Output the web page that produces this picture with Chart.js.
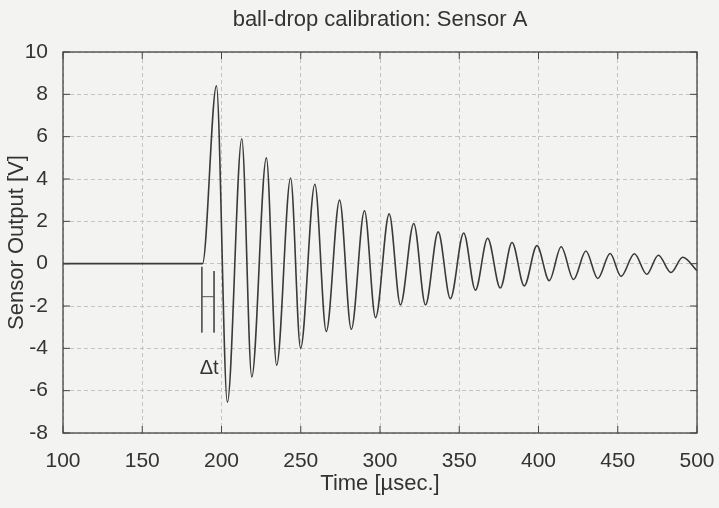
<!DOCTYPE html>
<html>
<head>
<meta charset="utf-8">
<title>ball-drop calibration: Sensor A</title>
<script src="https://cdn.jsdelivr.net/npm/chart.js@4/dist/chart.umd.min.js"></script>
<style>
  html, body { margin: 0; padding: 0; background: #f3f3f1; }
  #wrap { width: 719px; height: 508px; }
</style>
</head>
<body>
<div id="wrap"><canvas id="sensorChart"></canvas></div>
<script>
// sensor trace: onset, then each peak / trough in turn
const timeUs = [100, 188, 196.8, 203.7, 212.8, 219.1, 228.3, 234.8, 243.6, 249.9,
  258.9, 266.1, 274.5, 281.9, 290.2, 297.2, 305.8, 312.9, 321.3, 328.7,
  336.7, 344.4, 352.8, 360.2, 367.9, 375.9, 383.3, 391.0, 399.0, 406.8,
  414.3, 422.1, 429.9, 437.4, 445.2, 452.1, 460.5, 468.3, 475.6, 483.6,
  491.0, 500];
const outputV = [0, 0, 8.40, -6.55, 5.90, -5.35, 5.00, -4.80, 4.05, -4.00,
  3.75, -3.20, 3.00, -3.10, 2.50, -2.55, 2.35, -1.95, 1.90, -1.95,
  1.50, -1.65, 1.45, -1.25, 1.20, -1.15, 1.00, -1.05, 0.85, -0.80,
  0.80, -0.75, 0.60, -0.70, 0.48, -0.60, 0.47, -0.50, 0.40, -0.42,
  0.30, -0.33];

// delta-t marker (two bars and the link between them)
const dtLeftX = [187.6, 187.6];
const dtLeftY = [-0.15, -3.25];
const dtRightX = [195.3, 195.3];
const dtRightY = [-0.35, -3.25];
const dtBarX = [187.6, 195.3];
const dtBarY = [-1.56, -1.56];
const dtLabel = { text: 'Δt', x: 192.2, y: -4.95 };

const xTicks = [100, 150, 200, 250, 300, 350, 400, 450, 500];
const yTicks = [-8, -6, -4, -2, 0, 2, 4, 6, 8, 10];

const ink = '#333333';
const fontFamily = '"Liberation Sans", Arial, Helvetica, sans-serif';

function pts(xs, ys) {
  return xs.map((x, i) => ({ x: x, y: ys[i] }));
}

function markerSet(xs, ys) {
  return {
    data: pts(xs, ys),
    borderColor: '#555',
    borderWidth: 1,
    pointRadius: 0,
    tension: 0
  };
}

// gnuplot-style frame with inward ticks, plus the delta-t text
const framePlugin = {
  id: 'frame',
  afterDatasetsDraw(chart) {
    const { ctx, chartArea: a, scales } = chart;
    ctx.save();
    ctx.strokeStyle = '#444';
    ctx.lineWidth = 1.3;
    ctx.strokeRect(a.left, a.top, a.right - a.left, a.bottom - a.top);
    ctx.lineWidth = 1;
    ctx.beginPath();
    xTicks.forEach(v => {
      const px = scales.x.getPixelForValue(v);
      ctx.moveTo(px, a.bottom); ctx.lineTo(px, a.bottom - 7);
      ctx.moveTo(px, a.top); ctx.lineTo(px, a.top + 7);
    });
    yTicks.forEach(v => {
      const py = scales.y.getPixelForValue(v);
      ctx.moveTo(a.left, py); ctx.lineTo(a.left + 7, py);
      ctx.moveTo(a.right, py); ctx.lineTo(a.right - 7, py);
    });
    ctx.stroke();

    ctx.fillStyle = ink;
    ctx.font = '20px ' + fontFamily;
    ctx.textAlign = 'center';
    ctx.textBaseline = 'middle';
    ctx.fillText(dtLabel.text, scales.x.getPixelForValue(dtLabel.x), scales.y.getPixelForValue(dtLabel.y));
    ctx.restore();
  }
};

const ctx = document.getElementById('sensorChart').getContext('2d');

new Chart(ctx, {
  type: 'line',
  data: {
    datasets: [
      {
        label: 'Sensor A',
        data: pts(timeUs, outputV),
        borderColor: '#3a3a3a',
        borderWidth: 1.6,
        pointRadius: 0,
        cubicInterpolationMode: 'monotone'
      },
      markerSet(dtLeftX, dtLeftY),
      markerSet(dtRightX, dtRightY),
      markerSet(dtBarX, dtBarY)
    ]
  },
  options: {
    responsive: true,
    maintainAspectRatio: false,
    animation: false,
    layout: { padding: { left: 0, right: 22, top: 0, bottom: 0 } },
    plugins: {
      legend: { display: false },
      tooltip: { enabled: false },
      title: {
        display: true,
        fullSize: false,
        text: 'ball-drop calibration: Sensor A',
        color: ink,
        font: { family: fontFamily, size: 22, weight: 'normal' },
        padding: { top: 7, bottom: 18.6 }
      }
    },
    scales: {
      x: {
        type: 'linear',
        min: 100,
        max: 500,
        afterFit(scale) {
          scale.height = 75;
          // labels fit inside the margins already
          scale.paddingLeft = 0;
          scale.paddingRight = 0;
        },
        afterBuildTicks(scale) { scale.ticks = xTicks.map(v => ({ value: v })); },
        ticks: {
          color: ink,
          padding: 16,
          maxRotation: 0,
          font: { family: fontFamily, size: 21 }
        },
        grid: {
          color: '#c4c4c4',
          lineWidth: 1,
          drawTicks: false
        },
        border: { display: false, dash: [4, 3] },
        title: {
          display: true,
          text: 'Time [µsec.]',
          color: ink,
          font: { family: fontFamily, size: 22 },
          padding: { top: 0, bottom: 10.8 }
        }
      },
      y: {
        min: -8,
        max: 10,
        afterFit(scale) { scale.width = 63; },
        afterBuildTicks(scale) { scale.ticks = yTicks.map(v => ({ value: v })); },
        ticks: {
          color: ink,
          padding: 15,
          font: { family: fontFamily, size: 21 }
        },
        grid: {
          color: '#c4c4c4',
          lineWidth: 1,
          drawTicks: false
        },
        border: { display: false, dash: [4, 3] },
        title: {
          display: true,
          text: 'Sensor Output [V]',
          color: ink,
          font: { family: fontFamily, size: 22 },
          padding: { top: 4.2, bottom: 0 }
        }
      }
    }
  },
  plugins: [framePlugin]
});
</script>
</body>
</html>
